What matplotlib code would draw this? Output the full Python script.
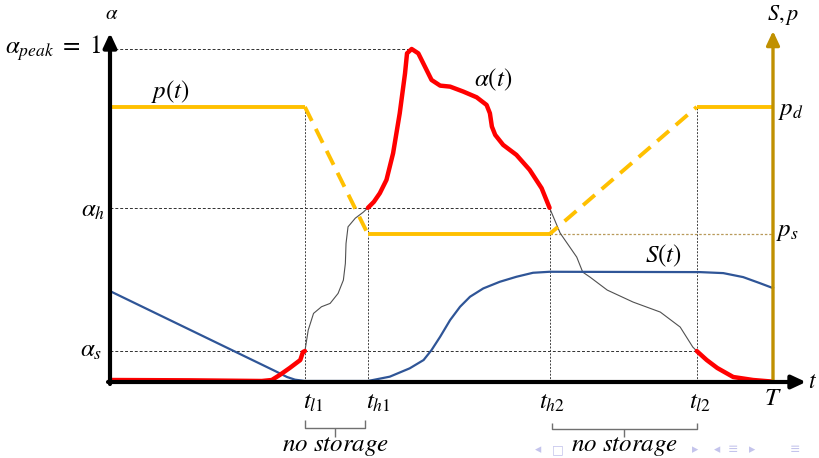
import numpy as np
import matplotlib
matplotlib.use("Agg")
import matplotlib.pyplot as plt

plt.rcParams['mathtext.fontset'] = 'stix'
plt.rcParams['font.family'] = ['DejaVu Sans']

# ---- key levels / times (normalized: T = 1, alpha_peak = 1) ----
T = 1.0
t_l1, t_h1, t_h2, t_l2 = 0.294, 0.389, 0.663, 0.885
alpha_peak = 1.0
alpha_h = 0.523
alpha_s = 0.093
p_d = 0.826
p_s = 0.444
t_peak = 0.455

# ---- alpha(t) curve ----
t_alpha = [0.0, 0.12, 0.229, 0.244, 0.256, 0.271, 0.287, 0.291, 0.294,
           0.299, 0.307, 0.319, 0.332, 0.344, 0.352, 0.355, 0.356, 0.359, 0.370, 0.382, 0.389,
           0.398, 0.407, 0.417, 0.427, 0.437, 0.445, 0.448, 0.455, 0.465, 0.475, 0.485, 0.498,
           0.513, 0.533, 0.553, 0.568, 0.573, 0.576, 0.581, 0.593, 0.613, 0.633, 0.651, 0.663,
           0.679, 0.704, 0.713, 0.724, 0.750, 0.789, 0.830, 0.860, 0.879, 0.885,
           0.900, 0.916, 0.940, 0.970, 1.0]
alpha_vals = [0.006, 0.005, 0.003, 0.006, 0.021, 0.042, 0.066, 0.090, 0.093,
              0.156, 0.206, 0.226, 0.236, 0.266, 0.306, 0.356, 0.416, 0.466, 0.492, 0.510, 0.523,
              0.541, 0.567, 0.607, 0.687, 0.807, 0.927, 0.987, 1.0, 0.987, 0.947, 0.907, 0.890,
              0.887, 0.872, 0.855, 0.832, 0.807, 0.767, 0.742, 0.712, 0.682, 0.637, 0.582, 0.523,
              0.447, 0.375, 0.330, 0.315, 0.276, 0.240, 0.210, 0.165, 0.105, 0.093,
              0.066, 0.042, 0.015, 0.006, 0.001]

# ---- S(t) curve ----
t_S = [0.0, 0.249, 0.267, 0.279, 0.294, 0.389, 0.422, 0.452, 0.473, 0.485, 0.498,
       0.513, 0.528, 0.543, 0.563, 0.588, 0.613, 0.638, 0.663, 0.890, 0.925, 0.955,
       0.980, 1.0]
S_vals = [0.273, 0.033, 0.015, 0.007, 0.003, 0.003, 0.016, 0.041, 0.066, 0.096, 0.136,
          0.186, 0.226, 0.256, 0.281, 0.301, 0.316, 0.328, 0.331, 0.330, 0.327, 0.315,
          0.297, 0.282]

# ---- p(t) piecewise ----
t_p = [0.0, t_l1, t_h1, t_h2, t_l2, T]
p_vals = [p_d, p_d, p_s, p_s, p_d, p_d]

tick_times = [t_l1, t_h1, t_h2, t_l2, T]
tick_labels = [r'$t_{l1}$', r'$t_{h1}$', r'$t_{h2}$', r'$t_{l2}$', r'$T$']

# ---------------------------------------------------------------
W, H = 819, 458
X0, X1 = 110, 773   # pixel x of t=0 and t=T
Y0, Y1 = 382, 49    # pixel y of alpha=0 and alpha=1

def P(x, y):
    """pixel position -> data position (for annotation placement)"""
    return (x - X0) / (X1 - X0), (Y0 - y) / (Y0 - Y1)

fig = plt.figure(figsize=(W / 100, H / 100), dpi=100)
ax = fig.add_axes([0, 0, 1, 1])
xa, _ = P(0, 0)
xb, _ = P(W, 0)
_, ya = P(0, H)
_, yb = P(0, 0)
ax.set_xlim(xa, xb)
ax.set_ylim(ya, yb)
ax.axis('off')

ta = np.array(t_alpha)
av = np.array(alpha_vals)

# guide lines
gkw = dict(color='#303030', lw=0.7, ls=(0, (3, 2)), zorder=1)
ax.plot([0, t_peak], [alpha_peak, alpha_peak], **gkw)
ax.plot([0, t_h2], [alpha_h, alpha_h], **gkw)
ax.plot([0, t_l2], [alpha_s, alpha_s], **gkw)
vkw = dict(color='#404040', lw=0.7, ls=(0, (2, 1.5)), zorder=1)
ax.plot([t_l1, t_l1], [0, p_d], **vkw)
ax.plot([t_h1, t_h1], [0, alpha_h], **vkw)
ax.plot([t_h2, t_h2], [0, alpha_h], **vkw)
ax.plot([t_l2, t_l2], [0, p_d], **vkw)
ax.plot([t_h2, T], [p_s, p_s], color='#b89a5a', lw=0.9, ls=(0, (2, 1.5)), zorder=1)

# alpha thin (no-storage windows)
gmask = ((ta >= t_l1) & (ta <= t_h1)) | ((ta >= t_h2) & (ta <= t_l2))
ax.plot(ta, np.where(gmask, av, np.nan), color='#505050', lw=0.8,
        solid_joinstyle='round', zorder=2)

# S(t)
ax.plot(t_S, S_vals, color='#2f5597', lw=1.6, solid_joinstyle='round', zorder=3)

# p(t)
gold = '#FFC000'
ax.plot(t_p[0:2], p_vals[0:2], color=gold, lw=2.8, solid_capstyle='butt', zorder=4)
ax.plot(t_p[2:4], p_vals[2:4], color=gold, lw=2.8, solid_capstyle='butt', zorder=4)
ax.plot(t_p[4:6], p_vals[4:6], color=gold, lw=2.8, solid_capstyle='butt', zorder=4)
ax.plot(t_p[1:3], p_vals[1:3], color=gold, lw=2.8, ls=(0, (4, 2.3)), dash_capstyle='butt', zorder=4)
ax.plot(t_p[3:5], p_vals[3:5], color=gold, lw=2.8, ls=(1.2, (4, 2.3)), dash_capstyle='butt', zorder=4)

# alpha red (storage periods)
rmask = (ta <= t_l1) | ((ta >= t_h1) & (ta <= t_h2)) | (ta >= t_l2)
ax.plot(ta, np.where(rmask, av, np.nan), color='#FF0000', lw=3.2,
        solid_capstyle='round', solid_joinstyle='round', zorder=5)

# axes with arrows
_, ytop_l = P(0, 33)
xr_end, _ = P(806, 0)
_, ytop_r = P(0, 31)
ax.annotate('', xy=(0, ytop_l), xytext=(0, -0.006),
            arrowprops=dict(arrowstyle='-|>,head_length=0.6,head_width=0.28', lw=3,
                            color='black', shrinkA=0, shrinkB=0, mutation_scale=14),
            zorder=7)
ax.annotate('', xy=(xr_end, 0), xytext=(-0.003, 0),
            arrowprops=dict(arrowstyle='-|>,head_length=0.6,head_width=0.28', lw=3,
                            color='black', shrinkA=0, shrinkB=0, mutation_scale=14),
            zorder=7)
ax.annotate('', xy=(T, ytop_r), xytext=(T, 0),
            arrowprops=dict(arrowstyle='-|>,head_length=0.6,head_width=0.28', lw=2.4,
                            color='#C09000', shrinkA=0, shrinkB=0, mutation_scale=14),
            zorder=6)

# text labels
fs = 18
ax.text(*P(112, 13), r'$\alpha$', fontsize=15, ha='center', va='center')
ax.text(*P(783, 15), r'$S,p$', fontsize=16, ha='center', va='center')
ax.text(*P(812, 381), r'$t$', fontsize=17, ha='center', va='center')
ax.text(*P(101, 48), r'$\alpha_{peak}\ =\ 1$', fontsize=fs, ha='right', va='center')
ax.text(*P(105, 210), r'$\alpha_h$', fontsize=fs, ha='right', va='center')
ax.text(*P(102, 350), r'$\alpha_s$', fontsize=fs, ha='right', va='center')
ax.text(*P(170, 92), r'$p(t)$', fontsize=fs, ha='center', va='center')
ax.text(*P(493, 80), r'$\alpha(t)$', fontsize=fs, ha='center', va='center')
ax.text(*P(663, 256), r'$S(t)$', fontsize=fs, ha='center', va='center')
ax.text(*P(778, 110), r'$p_d$', fontsize=fs, ha='left', va='center')
ax.text(*P(776, 231), r'$p_s$', fontsize=fs, ha='left', va='center')

tick_dx = [8, 10, 2, 3, 0]
for tt, lab, dx in zip(tick_times, tick_labels, tick_dx):
    xpix = X0 + tt * (X1 - X0) + dx
    yp = 398 if lab == r'$T$' else 402
    ax.text(*P(xpix, yp), lab, fontsize=fs, ha='center', va='center')

# braces
bkw = dict(color='#707070', lw=1.0, zorder=2, solid_capstyle='butt')
def brace(t_a, t_b, ytop, ymid, ybot):
    xm = (t_a + t_b) / 2
    _, yt = P(0, ytop)
    _, ym = P(0, ymid)
    _, yb_ = P(0, ybot)
    ax.plot([t_a, t_a, t_b, t_b], [yt, ym, ym, yt], **bkw)
    ax.plot([xm, xm], [ym, yb_], **bkw)
    return xm

# navigation symbols (faint)
nav = [(538, '◂'), (558, '□'), (695, '▸'),
       (717, '◂'), (733, '≡'), (752, '▸'), (795, '≡')]
for x, s in nav:
    ax.text(*P(x, 450), s, fontsize=9, color='#c4c4ec', ha='center', va='center', zorder=1)

brace(t_l1, t_h1 - 0.004, 420, 428, 437)
brace(t_h2 + 0.003, t_l2, 423, 429, 437)
ax.text(*P(336, 446), r'$no\ storage$', fontsize=18, ha='center', va='center', zorder=3)
ax.text(*P(625, 446), r'$no\ storage$', fontsize=18, ha='center', va='center', zorder=3)

fig.savefig('out.png', dpi=100)
